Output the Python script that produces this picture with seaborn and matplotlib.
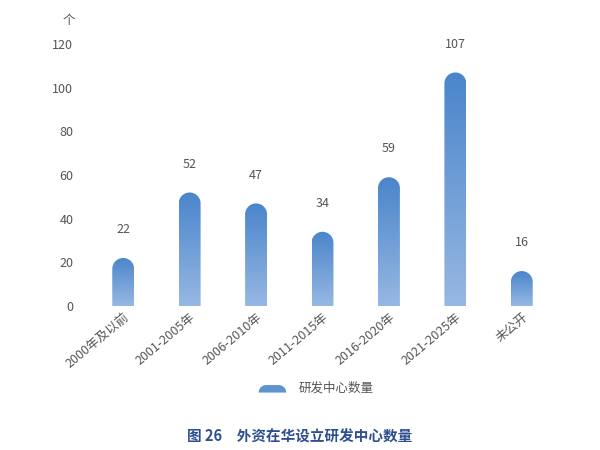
import numpy as np
import pandas as pd
import matplotlib
matplotlib.use("Agg")
import matplotlib.pyplot as plt
import seaborn as sns
from matplotlib.path import Path
from matplotlib.patches import PathPatch, Patch
from matplotlib.colors import LinearSegmentedColormap
from matplotlib.legend_handler import HandlerPatch

# 数据
categories = ["2000年及以前", "2001-2005年", "2006-2010年", "2011-2015年",
              "2016-2020年", "2021-2025年", "未公开"]
values = [22, 52, 47, 34, 59, 107, 16]
series_name = "研发中心数量"
title = "图 26　外资在华设立研发中心数量"

df = pd.DataFrame({"period": categories, "count": values})

sns.set_theme(style="white")
plt.rcParams["font.family"] = ["Noto Sans CJK SC", "DejaVu Sans"]

fig = plt.figure(figsize=(6, 4.5), dpi=100)
ax = fig.add_axes([0.15, 0.32, 0.775, 0.582])

sns.barplot(data=df, x="period", y="count", ax=ax, width=0.33, color="#6a9bd6")
ax.set_xlim(-0.5, 6.5)
ax.set_ylim(0, 120)
ax.set_yticks(range(0, 121, 20))

top_c = "#4a85cb"
bot_c = "#97b8e3"
cmap = LinearSegmentedColormap.from_list("g", [bot_c, top_c])
grad = np.linspace(0, 1, 256).reshape(-1, 1)

fig.canvas.draw()
# 每个数据单位对应的像素
sx = ax.transData.transform((1, 0))[0] - ax.transData.transform((0, 0))[0]
sy = ax.transData.transform((0, 1))[1] - ax.transData.transform((0, 0))[1]

for bar in list(ax.patches):
    x0 = bar.get_x()
    w = bar.get_width()
    h = bar.get_height()
    bar.set_visible(False)
    rx = w / 2
    ry = rx * sx / sy
    cx = x0 + rx
    t = np.linspace(np.pi, 0, 40)
    arc = np.column_stack([cx + rx * np.cos(t), h - ry + ry * np.sin(t)])
    verts = np.vstack([[x0, 0], arc, [x0 + w, 0], [x0, 0]])
    codes = [Path.MOVETO] + [Path.LINETO] * (len(verts) - 2) + [Path.CLOSEPOLY]
    shape = PathPatch(Path(verts, codes), facecolor="none", edgecolor="none",
                      transform=ax.transData)
    ax.add_patch(shape)
    im = ax.imshow(grad, extent=[x0, x0 + w, 0, h], origin="lower",
                   aspect="auto", cmap=cmap, zorder=2)
    im.set_clip_path(shape)
    ax.text(cx, h + 10, str(int(h)), ha="center", va="bottom",
            fontsize=9, color="#555555")

ax.set_xlim(-0.5, 6.5)
ax.set_ylim(0, 120)
sns.despine(ax=ax, left=True, bottom=True)
ax.set_xlabel("")
ax.set_ylabel("")
ax.tick_params(axis="both", length=0, labelsize=9, colors="#555555")
ax.tick_params(axis="y", pad=12)
plt.setp(ax.get_xticklabels(), rotation=40, ha="right", rotation_mode="anchor")
ax.text(-0.045, 1.09, "个", transform=ax.transAxes, fontsize=9, color="#555555",
        ha="center", va="center")


class RoundHandler(HandlerPatch):
    # 图例色块：顶部圆角
    def create_artists(self, legend, orig_handle, xdescent, ydescent,
                       width, height, fontsize, trans):
        x0, x1 = -xdescent, -xdescent + width
        y0 = -ydescent - 1
        r = height * 0.9
        t1 = np.linspace(np.pi, np.pi / 2, 15)
        t2 = np.linspace(np.pi / 2, 0, 15)
        left = np.column_stack([x0 + r + r * np.cos(t1), y0 + r * np.sin(t1)])
        right = np.column_stack([x1 - r + r * np.cos(t2), y0 + r * np.sin(t2)])
        verts = np.vstack([[x0, y0], left, right, [x1, y0], [x0, y0]])
        codes = [Path.MOVETO] + [Path.LINETO] * (len(verts) - 2) + [Path.CLOSEPOLY]
        p = PathPatch(Path(verts, codes), facecolor="#5e93d2",
                      edgecolor="none", transform=trans)
        return [p]


handle = Patch(color="#5e93d2", label=series_name)
fig.legend(handles=[handle], labels=[series_name], loc="center",
           bbox_to_anchor=(0.527, 0.138), frameon=False, fontsize=9,
           handler_map={Patch: RoundHandler()}, handlelength=2.2,
           handleheight=0.65, handletextpad=1.0, labelcolor="#555555")

fig.text(0.5, 0.029, title, ha="center", va="center", fontsize=10.5,
         fontweight="bold", color="#2e4f8f")

fig.savefig("out.png", dpi=100)
